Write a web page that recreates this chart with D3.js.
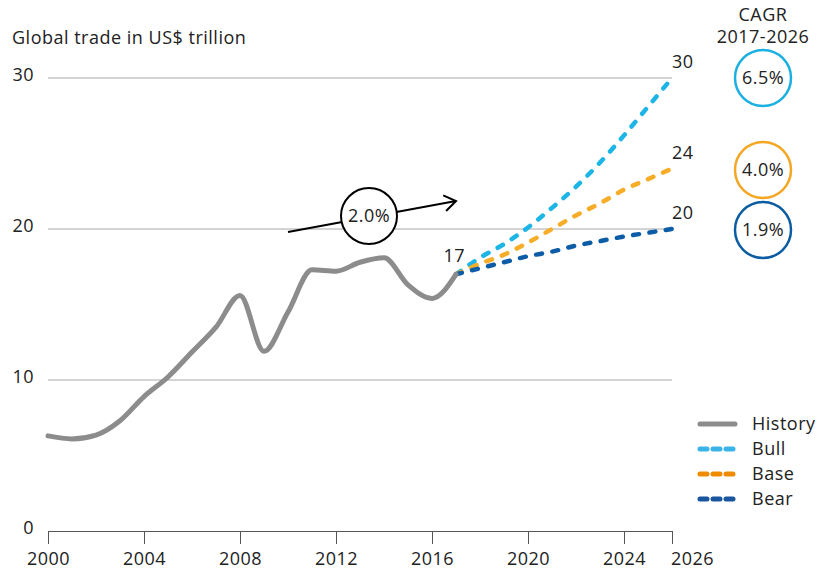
<!DOCTYPE html>
<html><head><meta charset="utf-8">
<script src="https://cdn.jsdelivr.net/npm/d3@7"></script>
<style>
html,body{margin:0;padding:0;background:#fff;}
svg text{font-family:"Open Sans",sans-serif;fill:#222;letter-spacing:0.5px;}
</style></head>
<body><svg id="c" width="819" height="574"></svg>
<script>
const historyYears = [2000,2001,2002,2003,2004,2005,2006,2007,2008,2009,2010,2011,2012,2013,2014,2015,2016,2017];
const historyValues = [6.3,6.1,6.35,7.3,8.9,10.2,11.85,13.5,15.6,11.9,14.5,17.3,17.2,17.8,18.1,16.3,15.4,17.0];
const forecastYears = [2017,2018,2019,2020,2021,2022,2023,2024,2025,2026];
const bullValues = [17.0,18.1,19.0,20.1,21.4,22.8,24.4,26.2,28.1,30.0];
const baseValues = [17.0,17.7,18.3,19.1,20.0,20.9,21.7,22.6,23.3,24.0];
const bearValues = [17.0,17.4,17.8,18.2,18.5,18.9,19.2,19.5,19.75,20.0];
const xTicks = [2000,2004,2008,2012,2016,2020,2024,2026];
const yTicks = [0,10,20,30];
const cagrLabels = ["6.5%","4.0%","1.9%"];
const endLabels = ["30","24","20"];
const legendNames = ["History","Bull","Base","Bear"];

const FS = 18;
const svg = d3.select("#c");
const x = d3.scaleLinear().domain([2000,2026]).range([48,672]);
const y = d3.scaleLinear().domain([0,30]).range([531,78]);

// gridlines
svg.append("g").selectAll("line").data(yTicks.filter(d=>d>0)).join("line")
  .attr("x1",x(2000)).attr("x2",x(2026)).attr("y1",d=>y(d)).attr("y2",d=>y(d))
  .attr("stroke","#a8a8a8").attr("stroke-width",1);
// y labels
svg.append("g").selectAll("text").data(yTicks).join("text")
  .attr("x",34).attr("y",d=>y(d)-3).attr("dy","0.35em").attr("text-anchor","end")
  .attr("font-size",FS).text(d=>d);
// x axis
const xa = svg.append("g").attr("transform",`translate(0,${y(0)})`)
  .call(d3.axisBottom(x).tickValues(xTicks).tickFormat(d3.format("d")).tickSize(13).tickSizeOuter(0));
xa.select(".domain").attr("stroke","#555").attr("stroke-width",1.2);
xa.selectAll(".tick line").attr("stroke","#555");
xa.selectAll(".tick text").attr("font-size",FS).attr("font-family","Open Sans").attr("fill","#222").attr("dy","1.15em")
  .attr("dx",d=>d===2026?20:0).attr("y",13);

// title
svg.append("text").attr("x",12).attr("y",44).attr("font-size",FS).text("Global trade in US$ trillion");

const line = d3.line().curve(d3.curveMonotoneX);
// forecasts
const fc = [
  {vals:bullValues,color:"#1cb5e5"},
  {vals:baseValues,color:"#f6ad28"},
  {vals:bearValues,color:"#0d5ca6"}
];
fc.forEach(f=>{
  svg.append("path").attr("d",line(forecastYears.map((yr,i)=>[x(yr),y(f.vals[i])])))
    .attr("fill","none").attr("stroke",f.color).attr("stroke-width",4.5)
    .attr("stroke-linecap","round").attr("stroke-dasharray","6,10.5");
});
// history
svg.append("path").attr("d",line(historyYears.map((yr,i)=>[x(yr),y(historyValues[i])])))
  .attr("fill","none").attr("stroke","#8c8c8c").attr("stroke-width",5).attr("stroke-linecap","round");

// end labels
svg.append("text").attr("x",x(2017)+9).attr("y",y(17)-19).attr("dy","0.35em").attr("text-anchor","end").attr("font-size",FS).text("17");
[bullValues,baseValues,bearValues].forEach((v,i)=>{
  svg.append("text").attr("x",x(2026)+0).attr("y",y(v[v.length-1])-16).attr("dy","0.35em").attr("font-size",FS).text(endLabels[i]);
});

// 2.0% annotation arrow
const arrowStart=[x(2010),y(19.8)], arrowEnd=[x(2017),y(21.85)];
svg.append("line").attr("x1",arrowStart[0]).attr("y1",arrowStart[1]).attr("x2",arrowEnd[0]).attr("y2",arrowEnd[1])
  .attr("stroke","#000").attr("stroke-width",2);
const ang=Math.atan2(arrowEnd[1]-arrowStart[1],arrowEnd[0]-arrowStart[0]);
const ah=14, aw=0.6;
svg.append("path").attr("d",`M${arrowEnd[0]-ah*Math.cos(ang-aw)},${arrowEnd[1]-ah*Math.sin(ang-aw)}L${arrowEnd[0]},${arrowEnd[1]}L${arrowEnd[0]-ah*Math.cos(ang+aw)},${arrowEnd[1]-ah*Math.sin(ang+aw)}`)
  .attr("fill","none").attr("stroke","#000").attr("stroke-width",2);
svg.append("circle").attr("cx",369).attr("cy",216).attr("r",28).attr("fill","#fff").attr("stroke","#000").attr("stroke-width",2);
svg.append("text").attr("x",369).attr("y",216).attr("dy","0.35em").attr("text-anchor","middle").attr("font-size",FS).text("2.0%");

// CAGR
svg.append("text").attr("x",763).attr("y",15).attr("dy","0.35em").attr("text-anchor","middle").attr("font-size",FS).text("CAGR");
svg.append("text").attr("x",763).attr("y",37).attr("dy","0.35em").attr("text-anchor","middle").attr("font-size",FS).text("2017-2026");
const cagrY=[78,170,230];
const cagrCol=["#1ab0e2","#f5a623","#0b5ca3"];
cagrLabels.forEach((t,i)=>{
  svg.append("circle").attr("cx",763).attr("cy",cagrY[i]).attr("r",28).attr("fill","#fff").attr("stroke",cagrCol[i]).attr("stroke-width",2.5);
  svg.append("text").attr("x",763).attr("y",cagrY[i]).attr("dy","0.35em").attr("text-anchor","middle").attr("font-size",FS).text(t);
});

// legend
const legCol=["#8c8c8c","#3ab4e6","#ef8b00","#1a56a0"];
legendNames.forEach((n,i)=>{
  const ly=424+i*25;
  const l=svg.append("line").attr("x1",700).attr("x2",735).attr("y1",ly).attr("y2",ly)
    .attr("stroke",legCol[i]).attr("stroke-width",5).attr("stroke-linecap","round");
  if(i>0) l.attr("stroke-dasharray","7,6");
  svg.append("text").attr("x",752).attr("y",ly).attr("dy","0.35em").attr("font-size",FS).text(n);
});
</script></body></html>
